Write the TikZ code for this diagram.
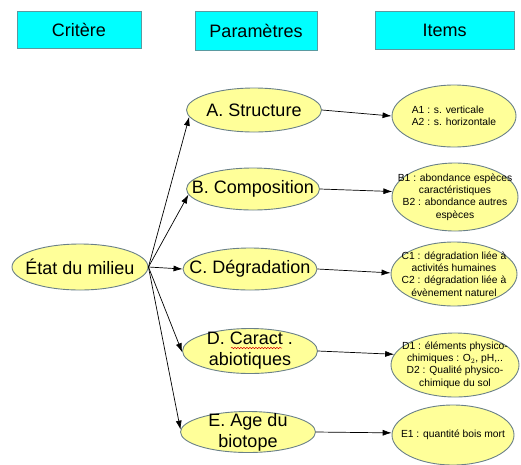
\documentclass[tikz,border=0pt]{standalone}
\usepackage{fontspec}
\setmainfont{Liberation Sans}
\usetikzlibrary{shapes.geometric,arrows.meta,decorations.pathmorphing}
\definecolor{hdrfill}{HTML}{00FFFF}
\definecolor{hdrline}{HTML}{5A9AA0}
\definecolor{elfill}{HTML}{FFFF99}
\definecolor{elline}{HTML}{6A8088}
\tikzset{
  hdr/.style={draw=hdrline, line width=0.8pt, fill=hdrfill, minimum width=#1, minimum height=37pt, inner sep=0pt,
    font=\fontsize{18}{21}\selectfont},
  elbase/.style={ellipse, draw=elline, line width=0.9pt, fill=elfill, inner sep=0pt},
  bigtxt/.style={align=center, inner sep=0pt, font=\fontsize{18}{21}\selectfont},
  smalltxt/.style={align=center, inner sep=0pt, font=\fontsize{10.3}{12.3}\selectfont},
  conn/.style={line width=0.7pt, -{Latex[length=9pt,width=6pt]}},
}
\begin{document}
\begin{tikzpicture}[x=1pt,y=-1pt]
\useasboundingbox (0,0) rectangle (521,464);
% headers
\node[hdr=124pt] (h1) at (79,29.5) {Critère};
\node[hdr=122pt, minimum height=39pt] (h2) at (256,30.5) {Paramètres};
\node[hdr=139pt, minimum height=38pt] (h3) at (444.5,30) {Items};
% criterion
\node[elbase, minimum width=136pt, minimum height=46pt, label={[bigtxt]center:{État du milieu}}] (etat) at (80,267) {};
% parameters
\node[elbase, minimum width=135pt, minimum height=44pt, label={[bigtxt]center:{A. Structure}}] (pa) at (254,110) {};
\node[elbase, minimum width=133pt, minimum height=42pt, label={[bigtxt]center:{B. Composition}}] (pb) at (253,189) {};
\node[elbase, minimum width=134pt, minimum height=42pt, label={[bigtxt]center:{C. Dégradation}}] (pc) at (250,269) {};
\node[elbase, minimum width=135pt, minimum height=45pt, label={[bigtxt]center:{D. Caract .\\abiotiques}}] (pd) at (250,351) {};
\node[elbase, minimum width=135pt, minimum height=41pt, label={[bigtxt]center:{E. Age du\\biotope}}] (pe) at (248,432) {};
% spell-check squiggle under "Caract"
\draw[red!85!black, line width=0.5pt, decorate, decoration={snake, amplitude=0.7pt, segment length=3pt}] (231,348) -- (282,348);
% items
\node[elbase, minimum width=124pt, minimum height=62pt,
  label={[smalltxt, align=left]center:{A1 : s. verticale\\A2 : s. horizontale}}] (ia) at (454,116) {};
\node[elbase, minimum width=126pt, minimum height=68pt,
  label={[smalltxt]center:{B1 : abondance espèces\\caractéristiques\\B2 : abondance autres\\espèces}}] (ib) at (455,197) {};
\node[elbase, minimum width=126pt, minimum height=64pt,
  label={[smalltxt]center:{C1 : dégradation liée à\\activités humaines\\C2 : dégradation liée à\\évènement naturel}}] (ic) at (454,274) {};
\node[elbase, minimum width=128pt, minimum height=64pt,
  label={[smalltxt]center:{D1 : éléments physico-\\chimiques : O$_2$, pH,..\\D2 : Qualité physico-\\chimique du sol}}] (id) at (455,365) {};
\node[elbase, minimum width=122pt, minimum height=60pt,
  label={[smalltxt]center:{E1 : quantité bois mort}}] (ie) at (453,435) {};
% connectors criterion -> parameters
\draw[conn] (etat.east) -- (pa.186);
\draw[conn] (etat.east) -- (pb.185);
\draw[conn] (etat.east) -- (pc.west);
\draw[conn] (etat.east) -- (pd.181);
\draw[conn] (etat.east) -- (pe.178);
% connectors parameters -> items
\draw[conn] (pa.east) -- (ia.west);
\draw[conn] (pb.east) -- (ib.175);
\draw[conn] (pc.east) -- (ic.179);
\draw[conn] (pd.east) -- (id.170);
\draw[conn] (pe.east) -- (ie.178);
\end{tikzpicture}
\end{document}
